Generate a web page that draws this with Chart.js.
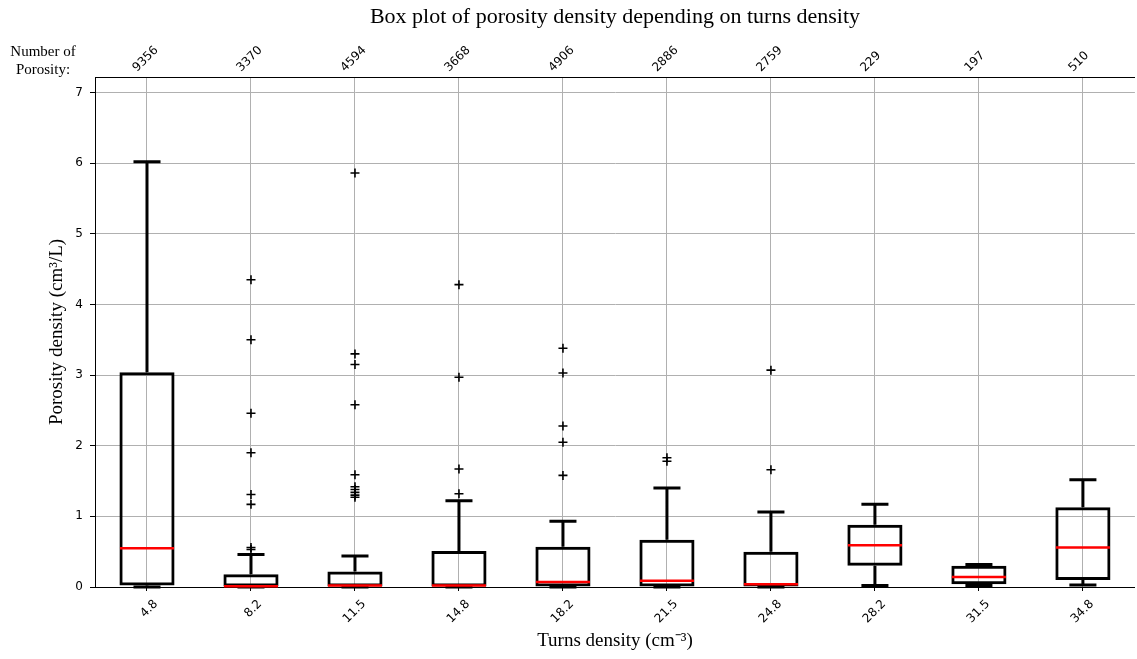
<!DOCTYPE html>
<html><head><meta charset="utf-8">
<script src="https://cdn.jsdelivr.net/npm/chart.js@4.4.1/dist/chart.umd.min.js"></script>
<style>
html,body{margin:0;padding:0;background:#fff;overflow:hidden;}
#wrap{position:relative;width:1141px;height:659px;}
#note{position:absolute;left:0;top:42px;width:86px;text-align:center;font:15px/18px 'Liberation Serif','Times New Roman',serif;color:#000;}
</style></head><body>
<div id="wrap"><canvas id="c" width="1141" height="659"></canvas>
<div id="note">Number of<br>Porosity:</div></div>
<script>
const categories = ['4.8','8.2','11.5','14.8','18.2','21.5','24.8','28.2','31.5','34.8'];
const counts = ['9356','3370','4594','3668','4906','2886','2759','229','197','510'];
const whiskerLow = [0, 0, 0, 0, 0, 0, 0, 0.02, 0.02, 0.03];
const q1 = [0.02, 0, 0, 0, 0, 0, 0, 0.30, 0.04, 0.10];
const median = [0.55, 0.01, 0.02, 0.02, 0.07, 0.09, 0.04, 0.59, 0.14, 0.56];
const q3 = [3.04, 0.18, 0.22, 0.51, 0.57, 0.67, 0.50, 0.88, 0.30, 1.13];
const whiskerHigh = [6.02, 0.46, 0.44, 1.22, 0.93, 1.40, 1.06, 1.17, 0.32, 1.52];
const outliers = [
  [],
  [4.35, 3.50, 2.46, 1.90, 1.31, 1.17, 0.56, 0.53],
  [5.86, 3.30, 3.15, 2.58, 1.59, 1.42, 1.38, 1.34, 1.30, 1.27],
  [4.28, 2.97, 1.67, 1.32],
  [3.38, 3.03, 2.28, 2.05, 1.58],
  [1.83, 1.78],
  [3.07, 1.66],
  [], [], []
];
const yTicks = [0, 1, 2, 3, 4, 5, 6, 7];

const positions = categories.map((_, i) => i + 1);
const CAP = 0.13, HALF = 0.26;

const boxData = positions.map((p, i) => ({x: p, y: [q1[i], q3[i]]}));
const whiskerData = [], capData = [], medianData = [], outlierData = [];
positions.forEach((p, i) => {
  whiskerData.push({x: p, y: q3[i]}, {x: p, y: whiskerHigh[i]}, {x: p, y: null},
                   {x: p, y: q1[i]}, {x: p, y: whiskerLow[i]}, {x: p, y: null});
  capData.push({x: p - CAP, y: whiskerHigh[i]}, {x: p + CAP, y: whiskerHigh[i]}, {x: p, y: null},
               {x: p - CAP, y: whiskerLow[i]}, {x: p + CAP, y: whiskerLow[i]}, {x: p, y: null});
  medianData.push({x: p - HALF, y: median[i]}, {x: p + HALF, y: median[i]}, {x: p, y: null});
  outliers[i].forEach(v => outlierData.push({x: p, y: v}));
});

const setTicks = a => { a.ticks = positions.map(v => ({value: v})); };
const tickFont = {family: 'DejaVu Sans', size: 12};
const serif = 'Liberation Serif';

new Chart(document.getElementById('c'), {
  type: 'bar',
  data: {
    datasets: [
      {type: 'bar', data: boxData, backgroundColor: 'rgba(0,0,0,0)', borderColor: '#000',
       borderWidth: 3, borderSkipped: false, barPercentage: 0.53, categoryPercentage: 1, order: 4},
      {type: 'line', data: whiskerData, borderColor: '#000', borderWidth: 3, pointRadius: 0,
       fill: false, spanGaps: false, tension: 0, order: 3, clip: false},
      {type: 'line', data: capData, borderColor: '#000', borderWidth: 3, pointRadius: 0,
       fill: false, spanGaps: false, tension: 0, order: 3, clip: false},
      {type: 'scatter', data: outlierData, pointStyle: 'cross', pointRadius: 4.5, borderColor: '#000',
       backgroundColor: '#000', borderWidth: 1.6, showLine: false, order: 1},
      {type: 'line', data: medianData, borderColor: '#ff0000', borderWidth: 2.5, pointRadius: 0,
       fill: false, spanGaps: false, tension: 0, order: 0, clip: false}
    ]
  },
  options: {
    responsive: false,
    animation: false,
    devicePixelRatio: 1,
    events: [],
    layout: {padding: 0},
    plugins: {
      legend: {display: false},
      tooltip: {enabled: false},
      title: {display: false}
    },
    scales: {
      x: {
        type: 'linear', position: 'bottom', min: 0.5, max: 10.5, offset: false,
        afterBuildTicks: setTicks,
        afterFit: a => { a.height = 72; },
        ticks: {callback: v => categories[Math.round(v) - 1], minRotation: 45, maxRotation: 45,
                autoSkip: false, font: tickFont, color: '#000', padding: 6, labelOffset: 9},
        grid: {offset: false, color: '#b0b0b0', lineWidth: 1, tickColor: '#000', tickLength: 4},
        border: {color: '#000', width: 1},
        title: {display: true, text: 'Turns density (cm⁻³)', color: '#000',
                font: {family: serif, size: 19}, padding: {top: 0, bottom: 7}}
      },
      x2: {
        type: 'linear', position: 'top', min: 0.5, max: 10.5, offset: false,
        afterBuildTicks: setTicks,
        afterFit: a => { a.height = 77; },
        ticks: {callback: v => counts[Math.round(v) - 1], minRotation: 45, maxRotation: 45,
                autoSkip: false, font: tickFont, color: '#000', padding: -6, labelOffset: -2},
        grid: {display: false, offset: false},
        border: {display: true, color: '#000', width: 1},
        title: {display: true, text: 'Box plot of porosity density depending on turns density',
                color: '#000', font: {family: serif, size: 22, weight: 'normal'}, padding: {top: 4, bottom: 0}}
      },
      y: {
        type: 'linear', min: 0, max: 7.22,
        afterBuildTicks: a => { a.ticks = yTicks.map(v => ({value: v})); },
        afterFit: a => { a.width = 95; },
        ticks: {font: tickFont, color: '#000', padding: 7},
        grid: {color: '#b0b0b0', lineWidth: 1, tickColor: '#000', tickLength: 5},
        border: {color: '#000', width: 1},
        title: {display: true, text: 'Porosity density (cm³/L)', color: '#000',
                font: {family: serif, size: 19}, padding: {top: 46, bottom: 0}}
      }
    }
  }
});
</script>
</body></html>
